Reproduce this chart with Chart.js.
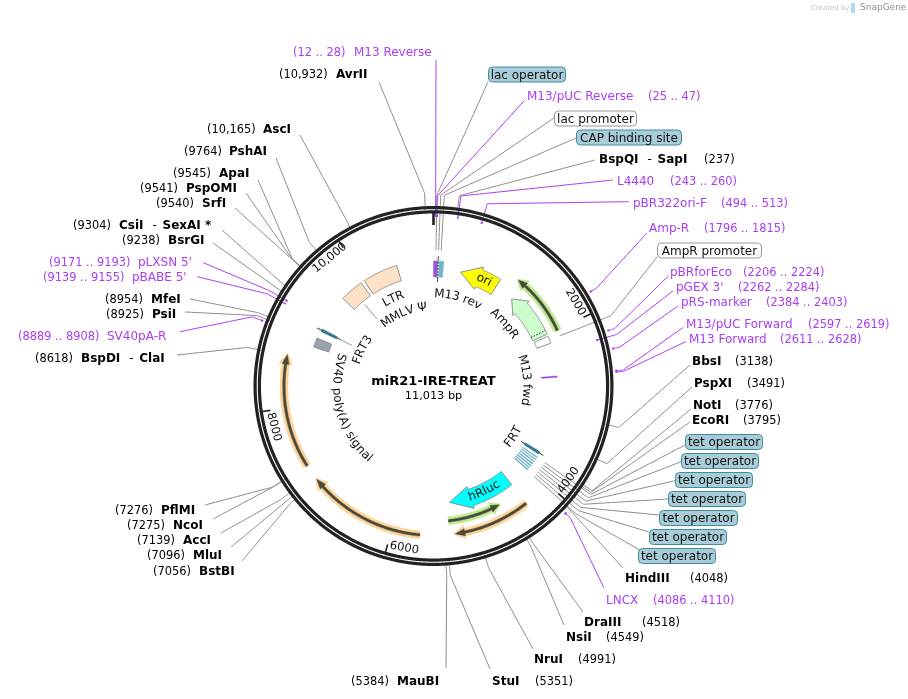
<!DOCTYPE html>
<html>
<head>
<meta charset="utf-8">
<style>html,body{margin:0;padding:0;background:#fff}canvas{display:block}</style>
<script src="https://cdn.jsdelivr.net/npm/chart.js@4"></script>
</head>
<body>
<canvas id="map" width="908" height="699"></canvas>
<script>
// ---------- DATA ----------
const PLASMID_NAME = 'miR21-IRE-TREAT';
const PLASMID_BP = 11013;
const TICK_BP = [2000, 4000, 6000, 8000, 10000];
const TICK_LABELS = ['2000', '4000', '6000', '8000', '10,000'];

const ENZYME_NAMES = ['AvrII','AscI','PshAI','ApaI','PspOMI','SrfI','CsiI - SexAI *','BsrGI','MfeI','PsiI','BspDI - ClaI',
  'PflMI','NcoI','AccI','MluI','BstBI','MauBI','StuI','NruI','NsiI','DraIII','HindIII','EcoRI','NotI','PspXI','BbsI','BspQI - SapI'];
const ENZYME_SITES = [10932,10165,9764,9545,9541,9540,9304,9238,8954,8925,8618,
  7276,7275,7139,7096,7056,5384,5351,4991,4549,4518,4048,3795,3776,3491,3138,237];

const PRIMER_NAMES = ['M13 Reverse','M13/pUC Reverse','L4440','pBR322ori-F','Amp-R','pBRforEco',"pGEX 3'",'pRS-marker',
  'M13/pUC Forward','M13 Forward','LNCX','SV40pA-R',"pBABE 5'","pLXSN 5'"];
const PRIMER_STARTS = [12,25,243,494,1796,2206,2262,2384,2597,2611,4086,8889,9139,9171];
const PRIMER_ENDS   = [28,47,260,513,1815,2224,2284,2403,2619,2628,4110,8908,9155,9193];
const PRIMER_OUTSIDE = [0,0,0,0,1,1,0,1,1,1,1,1,0,0];

const BOXED_NAMES = ['lac operator','lac promoter','CAP binding site','AmpR promoter',
  'tet operator','tet operator','tet operator','tet operator','tet operator','tet operator','tet operator'];
const BOXED_SITES = [32,66,99,2092,3812,3849,3887,3924,3961,3999,4036];

const ARROW_NAMES = ['ori','AmpR','hRluc'];
const ARROW_TAILS = [985,2003,4331];
const ARROW_TIPS  = [410,1283,5267];
const ARROW_HEADS = [700,1484,4943];

const BLOCK_NAMES  = ['LTR','MMLV Ψ','SV40 poly(A) signal','M13 fwd'];
const BLOCK_STARTS = [9995,9606,8810,2611];
const BLOCK_ENDS   = [10493,9942,8943,2628];

const ORF_TAILS = [7272,5666,4335];
const ORF_TIPS  = [8633,7079,5252];
const TAG_TAILS = [2015,5314];
const TAG_TIPS  = [1183,4619];

const FRT_SITES = [3742,9070];
const TET_STRIPE_SITES = [3810,3845,3880,3918,3955,3990,4025];
const M13_REV_BLOCK = [0,66,145];

// ---------- LAYOUT & STYLE (not data) ----------
const CX = 433.5, CY = 386, TEXT_DY = 1;
const PURPLE = '#a83df2', GREY = '#8c8c8c', DARK = '#222222';
const ENZYME_LAYOUT = {
 'AvrII':{n:336,c:279,y:74,end:[379,82],knee:193},
 'AscI':{n:263,c:207,y:129,end:[300,135]},
 'PshAI':{n:229,c:184,y:151,end:[276,158]},
 'ApaI':{n:219,c:173,y:173,end:[258,180]},
 'PspOMI':{n:186,c:140,y:188,end:[246,193]},
 'SrfI':{n:202,c:156,y:203,end:[235,208]},
 'CsiI - SexAI *':{n:119,c:73,y:225,end:[222,230],knee:182},
 'BsrGI':{n:168,c:122,y:240,end:[213,243],knee:182},
 'MfeI':{n:151,c:105,y:299,end:[190,299]},
 'PsiI':{n:152,c:106,y:314,end:[185,312]},
 'BspDI - ClaI':{n:81,c:35,y:358,end:[177,355]},
 'PflMI':{n:161,c:115,y:510,end:[205,505]},
 'NcoI':{n:173,c:127,y:525,end:[213,519]},
 'AccI':{n:183,c:137,y:540,end:[221,533]},
 'MluI':{n:193,c:147,y:555,end:[231,547],knee:184},
 'BstBI':{n:199,c:153,y:571,end:[242,561],knee:185},
 'MauBI':{n:397,c:351,y:681,end:[446,668]},
 'StuI':{n:492,c:535,y:681,end:[490,669]},
 'NruI':{n:534,c:578,y:659,end:[533,649]},
 'NsiI':{n:566,c:606,y:637,end:[564,625],knee:186},
 'DraIII':{n:584,c:642,y:622,end:[583,612],knee:186},
 'HindIII':{n:625,c:690,y:578,end:[623,568],knee:186},
 'EcoRI':{n:692,c:743,y:420,end:[690,422]},
 'NotI':{n:693,c:735,y:405,end:[691,409]},
 'PspXI':{n:694,c:747,y:383,end:[692,387]},
 'BbsI':{n:692,c:735,y:361,end:[690,365]},
 'BspQI - SapI':{n:599,c:704,y:159,end:[595,160],knee:192}
};
const PRIMER_LAYOUT = {
 'M13 Reverse':{n:354,c:293,y:52,end:[436,60]},
 'M13/pUC Reverse':{n:527,c:648,y:96,end:[524,101]},
 'L4440':{n:617,c:670,y:181,end:[613,180],knee:192},
 'pBR322ori-F':{n:633,c:721,y:203,end:[629,201.7]},
 'Amp-R':{n:649,c:704,y:228,end:[646.7,233.3]},
 'pBRforEco':{n:670,c:743,y:272,end:[668.3,276]},
 "pGEX 3'":{n:676,c:738,y:287,end:[673.3,290.7]},
 'pRS-marker':{n:681,c:766,y:302,end:[678,306]},
 'M13/pUC Forward':{n:686,c:808,y:324,end:[683.3,327.3]},
 'M13 Forward':{n:689,c:780,y:339,end:[685.7,341.7]},
 'LNCX':{n:606,c:653,y:600,end:[604,588]},
 'SV40pA-R':{n:107,c:18,y:336,end:[180,331.7],knee:194},
 "pBABE 5'":{n:132,c:43,y:277,end:[197.3,276.7]},
 "pLXSN 5'":{n:138,c:49,y:262,end:[203.3,262.7]}
};
const BOX_LAYOUT = [
 {x1:488,x2:565,y:74.5,fill:'#a9cdd8',end:[488,82]},
 {x1:554,x2:636,y:118.5,fill:'#ffffff',end:[554,118]},
 {x1:576,x2:681,y:137.5,fill:'#a9cdd8',end:[576,138]},
 {x1:657,x2:761,y:250.5,fill:'#ffffff',end:[657,257]},
 {x1:685,x2:762,y:442,fill:'#a9cdd8',end:[685,445]},
 {x1:681,x2:758,y:461,fill:'#a9cdd8',end:[681,461.7]},
 {x1:675,x2:752,y:480,fill:'#a9cdd8',end:[675,480.7]},
 {x1:668,x2:745,y:499,fill:'#a9cdd8',end:[668,499]},
 {x1:659,x2:737,y:518,fill:'#a9cdd8',end:[659,515]},
 {x1:649,x2:726,y:537,fill:'#a9cdd8',end:[649,532]},
 {x1:638,x2:715,y:556,fill:'#a9cdd8',end:[640,550]}
];
const CURVED_TEXT = [
 {t:'M13 rev',deg:15.5,r:92,dir:1},
 {t:'AmpR',deg:48.7,r:95,dir:1},
 {t:'M13 fwd',deg:86.3,r:93,dir:1},
 {t:'FRT',deg:122.7,r:95,dir:-1},
 {t:'SV40 poly(A) signal',deg:-105,r:97,dir:-1},
 {t:'FRT3',deg:-63.4,r:80,dir:1},
 {t:'LTR',deg:-25.2,r:96,dir:1},
 {t:'MMLV Ψ',deg:-23,r:79,dir:1},
 {t:'ori',deg:25.5,r:117.4,dir:1},
 {t:'hRluc',deg:154.3,r:117.3,dir:-1}
];

// ---------- GEOMETRY HELPERS ----------
const toRad = bp => bp / PLASMID_BP * 2 * Math.PI;
const polar = (bp, r) => ({x: CX + r * Math.sin(toRad(bp)), y: CY - r * Math.cos(toRad(bp))});
function arc(a, b, r) {
  const n = Math.max(2, Math.ceil(Math.abs(b - a) / 10)), out = [];
  for (let i = 0; i <= n; i++) out.push(polar(a + (b - a) * i / n, r));
  return out;
}
function block(a, b, r1, r2) {
  const p = arc(a, b, r2).concat(arc(b, a, r1));
  p.push(p[0]);
  return p;
}
function arrow(tail, tip, head, r, shaft, wing) {
  const p = arc(tail, head, r + shaft);
  p.push(polar(head, r + wing), polar(tip, r), polar(head, r - wing));
  const q = p.concat(arc(head, tail, r - shaft));
  q.push(q[0]);
  return q;
}

// ---------- DATASETS ----------
const datasets = [];
function line(points, color, width, extra) {
  datasets.push(Object.assign({data: points, showLine: true, pointRadius: 0, borderColor: color, borderWidth: width,
    fill: false, tension: 0.000001, clip: false, borderJoinStyle: 'round', order: -datasets.length}, extra || {}));
}
function poly(points, fillColor, stroke, width) {
  line(points, stroke || fillColor, width === undefined ? 1 : width, {fill: 'shape', backgroundColor: fillColor});
}
const leader = (start, startR, kneeBp, kneeR, end) => [polar(start, startR), polar(kneeBp, kneeR), {x: end[0], y: end[1]}];

ENZYME_NAMES.forEach((n, i) => {
  const L = ENZYME_LAYOUT[n];
  line(leader(ENZYME_SITES[i], 176, ENZYME_SITES[i], L.knee || 190, L.end), GREY, 1);
});
BOXED_NAMES.forEach((n, i) => {
  line(leader(BOXED_SITES[i], i < 4 ? 136 : 135, BOXED_SITES[i], 191, BOX_LAYOUT[i].end), GREY, 1);
});
PRIMER_NAMES.forEach((n, i) => {
  const L = PRIMER_LAYOUT[n], mid = (PRIMER_STARTS[i] + PRIMER_ENDS[i]) / 2;
  line(leader(mid, PRIMER_OUTSIDE[i] ? 183.5 : 170, mid, L.knee || 190, L.end), PURPLE, 1);
});
// short leaders from inner features to their inside labels
line([polar(9070, 104), polar(9070, 91)], GREY, 1);
line([polar(9785, 107), polar(9785, 88)], GREY, 1);

// backbone: two concentric circles
line(arc(0, PLASMID_BP, 178.4), DARK, 3.2);
line(arc(0, PLASMID_BP, 174.1), DARK, 3.2);
line([polar(0, 161), polar(0, 173)], DARK, 2.6);
TICK_BP.forEach(b => line([polar(b, 165), polar(b, 173)], DARK, 1.6));

PRIMER_NAMES.forEach((n, i) => {
  line(arc(PRIMER_STARTS[i], PRIMER_ENDS[i], PRIMER_OUTSIDE[i] ? 183.5 : 170), PURPLE, 2.2);
});

// arrow features
const ARROW_FILL = ['#ffff00','#ccffcc','#00ffff'];
const ARROW_R = [117,117,117.5], ARROW_SHAFT = [9,8,8.5], ARROW_WING = [12,11,11.5];
ARROW_NAMES.forEach((n, i) => {
  poly(arrow(ARROW_TAILS[i], ARROW_TIPS[i], ARROW_HEADS[i], ARROW_R[i], ARROW_SHAFT[i], ARROW_WING[i]), ARROW_FILL[i], '#8a8a8a', 1);
});
// AmpR signal peptide dots and promoter box
line([polar(1945, 109), polar(1945, 125)], '#111', 1, {borderDash: [1.5, 1.5]});
poly(block(2035, 2140, 110, 125), '#ffffff', '#8a8a8a', 1);

// flat blocks
const BLOCK_FILL = ['#fde2c8','#fde2c8','#9aa4ae','#a03de0'];
BLOCK_NAMES.forEach((n, i) => {
  const thin = i === 3;
  poly(block(BLOCK_STARTS[i], BLOCK_ENDS[i], thin ? 108 : 110, thin ? 124 : 126), BLOCK_FILL[i], thin ? BLOCK_FILL[i] : '#8a8a8a', thin ? 0.5 : 1);
});
// M13 rev / lac stack
poly(block(M13_REV_BLOCK[0], M13_REV_BLOCK[1], 109, 125), '#9a55d8', '#9a55d8', 0.5);
poly(block(M13_REV_BLOCK[1], M13_REV_BLOCK[2], 109, 125), '#6fb5c8', '#6fb5c8', 0.5);
line([polar(M13_REV_BLOCK[1], 104), polar(M13_REV_BLOCK[1], 130)], '#333', 1);
line([polar(M13_REV_BLOCK[1] + 4, 109), polar(M13_REV_BLOCK[1] + 4, 125)], '#fff', 1.4, {borderDash: [1.5, 1.5]});

// FRT sites
FRT_SITES.forEach(b => {
  line([polar(b, 104), polar(b, 130)], '#222', 1);
  poly(block(b - 18, b + 18, 108, 125), '#2f7f97', '#1f5f72', 0.5);
});
// tet operator stripes
TET_STRIPE_SITES.forEach(b => poly(block(b - 7, b + 7, 108, 126), '#5aa3ba', '#5aa3ba', 0.3));

// glow + core arcs
function glowArc(tail, tip, r, glow) {
  const d = tip > tail ? -1 : 1, h = tip + d * 115;
  poly(arrow(tail, tip + d * -18, h, r, 4, 7), glow, glow, 0.5);
  poly(arrow(tail, tip, h, r, 1.3, 3.6), '#4a4a3c', '#4a4a3c', 0.4);
}
ORF_TAILS.forEach((t, i) => glowArc(t, ORF_TIPS[i], 149.5, '#fdd49a'));
TAG_TAILS.forEach((t, i) => glowArc(t, TAG_TIPS[i], 135.7, '#bfeb95'));

// ---------- TEXT PLUGIN ----------
const FONT = '"DejaVu Sans"';
const coordText = s => s >= 10000 ? s.toLocaleString('en-US') : String(s);
const textPlugin = {
  id: 'mapText',
  afterDatasetsDraw(chart) {
    const c = chart.ctx, X = v => chart.scales.x.getPixelForValue(v), Y = v => chart.scales.y.getPixelForValue(v);
    c.save();
    c.textBaseline = 'middle';
    // centre title
    c.textAlign = 'center';
    c.fillStyle = '#000';
    c.font = 'bold 13px ' + FONT;
    c.fillText(PLASMID_NAME, X(CX), Y(381 + TEXT_DY));
    c.font = '11.3px ' + FONT;
    c.fillText(PLASMID_BP.toLocaleString('en-US') + ' bp', X(CX), Y(395 + TEXT_DY));
    // enzymes
    c.textAlign = 'left';
    ENZYME_NAMES.forEach((n, i) => {
      const L = ENZYME_LAYOUT[n], parts = n.split(' - '), ty = Y(L.y + TEXT_DY);
      let x = X(L.n);
      c.fillStyle = '#000';
      parts.forEach((p, k) => {
        c.font = 'bold 12px ' + FONT;
        c.fillText(p, x, ty);
        x += c.measureText(p).width;
        if (k < parts.length - 1) {
          c.font = '12px ' + FONT;
          c.fillText('-', x + 9, ty);
          x += 19;
        }
      });
      c.font = '11.4px ' + FONT;
      c.fillText('(' + coordText(ENZYME_SITES[i]) + ')', X(L.c), ty);
    });
    // primers
    c.fillStyle = PURPLE;
    PRIMER_NAMES.forEach((n, i) => {
      const L = PRIMER_LAYOUT[n], ty = Y(L.y + TEXT_DY);
      c.font = '12px ' + FONT;
      c.fillText(n, X(L.n), ty);
      c.font = '11.4px ' + FONT;
      c.fillText('(' + PRIMER_STARTS[i] + ' .. ' + PRIMER_ENDS[i] + ')', X(L.c), ty);
    });
    // boxed features
    BOXED_NAMES.forEach((n, i) => {
      const B = BOX_LAYOUT[i], x1 = X(B.x1), x2 = X(B.x2), y = Y(B.y);
      c.beginPath();
      c.roundRect(x1 + 0.5, y - 7.5, x2 - x1, 15, 4);
      c.fillStyle = B.fill;
      c.fill();
      c.lineWidth = 1;
      c.strokeStyle = B.fill === '#ffffff' ? '#999' : '#3f8ba0';
      c.stroke();
      c.fillStyle = '#111';
      c.font = '12px ' + FONT;
      c.textAlign = 'center';
      c.fillText(n, (x1 + x2) / 2 + 0.5, y + TEXT_DY);
      c.textAlign = 'left';
    });
    // curved labels inside the ring
    c.fillStyle = '#111';
    c.textAlign = 'center';
    CURVED_TEXT.forEach(T => {
      c.font = '12px ' + FONT;
      const total = c.measureText(T.t).width;
      let pos = -total / 2;
      for (const ch of T.t) {
        const w = c.measureText(ch).width;
        const a = (T.deg + T.dir * (pos + w / 2) / T.r * 180 / Math.PI) * Math.PI / 180;
        const px = X(CX + T.r * Math.sin(a)), py = Y(CY - T.r * Math.cos(a));
        c.save();
        c.translate(px, py);
        c.rotate(T.dir > 0 ? a : a + Math.PI);
        c.fillText(ch, 0, 0);
        c.restore();
        pos += w;
      }
    });
    // ring tick labels
    c.font = '11.5px ' + FONT;
    TICK_BP.forEach((b, i) => {
      const deg = b / PLASMID_BP * 360 - 5.9, a = deg * Math.PI / 180;
      const lower = Math.cos(a) < 0;
      c.save();
      c.translate(X(CX + 164.8 * Math.sin(a)), Y(CY - 164.8 * Math.cos(a)));
      c.rotate(lower ? a + Math.PI : a);
      c.fillText(TICK_LABELS[i], 0, 0);
      c.restore();
    });
    // watermark
    c.textAlign = 'left';
    c.fillStyle = '#c4c4c4';
    c.font = '7px ' + FONT;
    c.fillText('Created by', X(811), Y(8));
    c.fillStyle = '#a9dcf0';
    c.fillRect(X(851), Y(3), 4, 10);
    c.fillStyle = '#8b9097';
    c.font = '9px ' + FONT;
    c.fillText('SnapGene', X(860), Y(8));
    c.restore();
  }
};

// ---------- CHART ----------
new Chart(document.getElementById('map'), {
  type: 'scatter',
  data: {datasets},
  options: {
    responsive: false,
    animation: false,
    layout: {padding: 0},
    plugins: {legend: {display: false}, tooltip: {enabled: false}},
    scales: {
      x: {type: 'linear', min: 0, max: 908, display: false},
      y: {type: 'linear', min: 0, max: 699, reverse: true, display: false}
    }
  },
  plugins: [textPlugin]
});
</script>
</body>
</html>
